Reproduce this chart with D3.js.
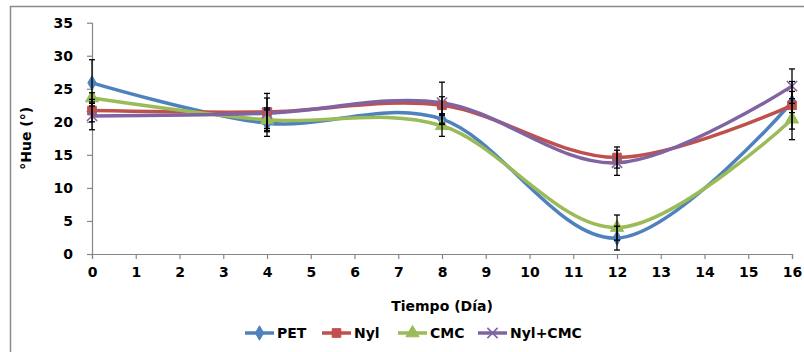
<!DOCTYPE html>
<html>
<head>
<meta charset="utf-8">
<script src="https://cdn.jsdelivr.net/npm/d3@7"></script>
<style>
  body { margin: 0; background: #fff; }
  text { font-family: "DejaVu Sans", sans-serif; font-weight: bold; font-size: 14px; fill: #000; }
</style>
</head>
<body>
<script>
// data
var days = [0, 4, 8, 12, 16];
var xTicks = d3.range(0, 17);
var yTicks = [0, 5, 10, 15, 20, 25, 30, 35];

var pet = [25.9, 19.8, 20.4, 2.4, 23.0];
var petErr = [3.5, 2.0, 0.8, 1.8, 1.6];
var nyl = [21.7, 21.5, 22.5, 14.6, 22.5];
var nylErr = [1.7, 2.8, 1.3, 1.6, 3.6];
var cmc = [23.6, 20.3, 19.4, 4.0, 20.4];
var cmcErr = [0.8, 1.8, 1.6, 1.9, 3.1];
var nylCmc = [20.9, 21.3, 22.9, 13.8, 25.4];
var nylCmcErr = [2.1, 2.3, 3.1, 1.9, 2.6];

var series = [
	{name: "PET", values: pet, err: petErr, color: "#4F81BD", symbol: d3.symbolDiamond, size: 60},
	{name: "Nyl", values: nyl, err: nylErr, color: "#C0504D", symbol: d3.symbolSquare, size: 75},
	{name: "CMC", values: cmc, err: cmcErr, color: "#9BBB59", symbol: d3.symbolTriangle, size: 75},
	{name: "Nyl+CMC", values: nylCmc, err: nylCmcErr, color: "#8064A2", symbol: d3.symbolX, size: 70, stroke: true}
];

var svg = d3.select("body").append("svg")
	.attr("width", 804)
	.attr("height", 352);

// chart frame
svg.append("path")
	.attr("d", "M10.5,360 L10.5,6.5 L810,6.5")
	.attr("fill", "none")
	.attr("stroke", "#8a8a8a")
	.attr("stroke-width", 1.5);

var x = d3.scaleLinear().domain([0, 16]).range([92, 792]);
var y = d3.scaleLinear().domain([0, 35]).range([254, 22.7]);

// axes
var xAxis = svg.append("g")
	.attr("transform", "translate(0,254)")
	.call(d3.axisBottom(x).tickValues(xTicks).tickSize(5).tickPadding(8).tickFormat(d3.format("d")));
var yAxis = svg.append("g")
	.attr("transform", "translate(92,0)")
	.call(d3.axisLeft(y).tickValues(yTicks).tickSize(5).tickPadding(14).tickFormat(d3.format("d")));

[xAxis, yAxis].forEach(function(a){
	a.select(".domain").attr("stroke", "#868686").attr("stroke-width", 1.2);
	a.selectAll(".tick line").attr("stroke", "#868686").attr("stroke-width", 1.2);
	a.selectAll("text").attr("font-size", 14).attr("font-family", "DejaVu Sans").attr("font-weight", "bold").attr("fill", "#000");
});
yAxis.selectAll(".domain").attr("d", "M0.5," + y(35) + "V254");

// axis titles
svg.append("text")
	.attr("x", x(8))
	.attr("y", 311)
	.attr("text-anchor", "middle")
	.text("Tiempo (Día)");

svg.append("text")
	.attr("transform", "translate(31," + y(17.5) + ") rotate(-90)")
	.attr("text-anchor", "middle")
	.text("°Hue (°)");

// smoothed lines
var line = d3.line()
	.x(function(d, i){ return x(days[i]); })
	.y(function(d){ return y(d); })
	.curve(d3.curveCardinal.tension(0));

series.forEach(function(s){
	svg.append("path")
		.attr("d", line(s.values))
		.attr("fill", "none")
		.attr("stroke", s.color)
		.attr("stroke-width", 3.5);
});

// markers
series.forEach(function(s){
	svg.selectAll(null)
		.data(s.values)
		.enter().append("path")
		.attr("transform", function(d, i){ return "translate(" + x(days[i]) + "," + y(d) + ")"; })
		.attr("d", d3.symbol().type(s.symbol).size(s.size))
		.attr("fill", s.stroke ? "none" : s.color)
		.attr("stroke", s.color)
		.attr("stroke-width", s.stroke ? 1.6 : 1);
});

// error bars
series.forEach(function(s){
	var g = svg.append("g").attr("stroke", "#000").attr("stroke-width", 1.3);
	s.values.forEach(function(v, i){
		var cx = x(days[i]), top = y(v + s.err[i]), bot = y(v - s.err[i]);
		g.append("line").attr("x1", cx).attr("x2", cx).attr("y1", top).attr("y2", bot);
		g.append("line").attr("x1", cx - 3).attr("x2", cx + 3).attr("y1", top).attr("y2", top);
		g.append("line").attr("x1", cx - 3).attr("x2", cx + 3).attr("y1", bot).attr("y2", bot);
	});
});

// legend
var legendX = [245, 322, 398, 478];
var legend = svg.selectAll(".legend")
	.data(series)
	.enter().append("g")
	.attr("class", "legend")
	.attr("transform", function(d, i){ return "translate(" + legendX[i] + ",333)"; });

legend.append("line")
	.attr("x1", 0).attr("x2", 29)
	.attr("stroke", function(d){ return d.color; })
	.attr("stroke-width", 3.5);
legend.append("path")
	.attr("transform", "translate(14.5,0)")
	.attr("d", function(d){ return d3.symbol().type(d.symbol).size(d.size)(); })
	.attr("fill", function(d){ return d.stroke ? "none" : d.color; })
	.attr("stroke", function(d){ return d.color; })
	.attr("stroke-width", function(d){ return d.stroke ? 1.6 : 1; });
legend.append("text")
	.attr("x", 32)
	.attr("y", 5)
	.text(function(d){ return d.name; });
</script>
</body>
</html>
